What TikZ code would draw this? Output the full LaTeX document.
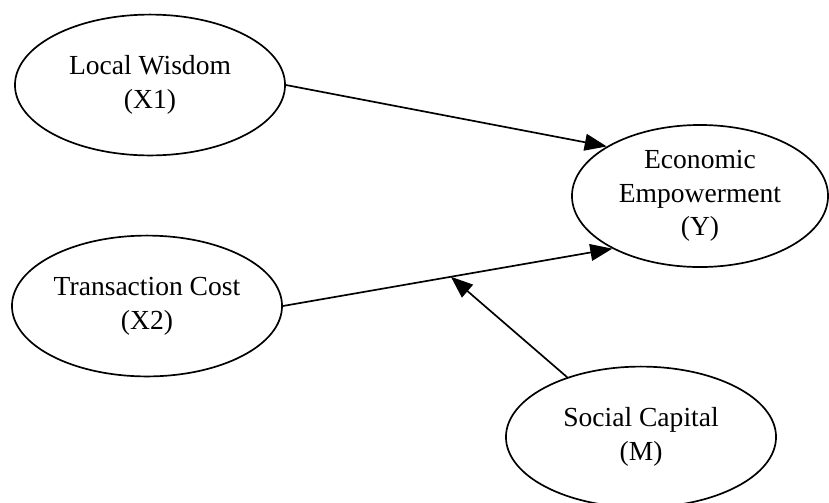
\documentclass[tikz,border=0pt]{standalone}
\usepackage{fontspec}
\setmainfont{Liberation Serif}
\usetikzlibrary{shapes.geometric,arrows.meta}

\tikzset{
  var/.style={ellipse, draw, line width=1.2pt, inner sep=0pt,
    minimum width=6.75cm, minimum height=3.52cm, align=center,
    font=\fontsize{19.6}{24}\selectfont},
  link/.style={-{Triangle[length=0.55cm,width=0.42cm]}, line width=1.2pt}
}

\begin{document}
\begin{tikzpicture}[x=0.025cm, y=-0.025cm]
    \useasboundingbox (0,0) rectangle (829,502);
    \node[var] (lw) at (150,85) {Local Wisdom\\(X1)};
    \node[var] (tc) at (147,306) {Transaction Cost\\(X2)};
    \node[var, minimum width=6.4cm, minimum height=3.55cm] (ee) at (700,196) {Economic\\Empowerment\\(Y)};
    \node[var] (sc) at (641,437) {Social Capital\\(M)};
    \draw[link] (lw.east) -- (ee.152);
    \draw[link] (tc.east) -- (ee.211) coordinate[pos=0.51] (mod);
    \draw[link] (sc.141) -- (mod);
\end{tikzpicture}
\end{document}
